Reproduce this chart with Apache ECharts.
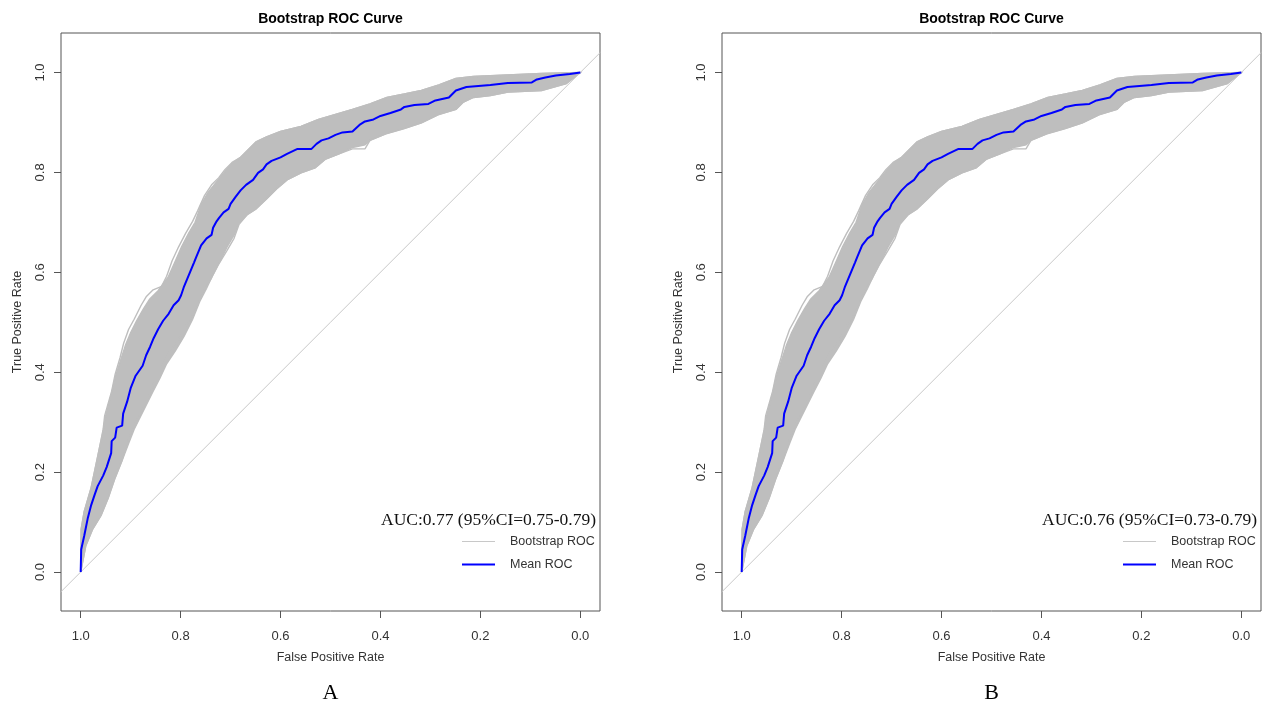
<!DOCTYPE html>
<html><head><meta charset="utf-8">
<script src="https://cdn.jsdelivr.net/npm/echarts@6/dist/echarts.min.js"></script>
<style>html,body{margin:0;padding:0;background:#fff}#c{width:1263px;height:706px}</style>
</head><body><div id="c"></div>
<script>
// tick labels
const tickValues = [0, 0.2, 0.4, 0.6, 0.8, 1.0];
const panelLabels = ['A', 'B'];
const aucTexts = ['AUC:0.77 (95%CI=0.75-0.79)', 'AUC:0.76 (95%CI=0.73-0.79)'];

// points are [specificity (x axis, shown 1.0 -> 0.0), sensitivity]
const meanROC_A = [[1.000,0.000],[0.999,0.045],[0.993,0.072],[0.986,0.107],[0.979,0.134],[0.972,0.155],[0.966,0.172],[0.955,0.193],[0.948,0.210],[0.939,0.238],[0.938,0.262],[0.931,0.269],[0.928,0.289],[0.917,0.293],[0.915,0.317],[0.907,0.341],[0.900,0.368],[0.890,0.393],[0.876,0.413],[0.869,0.434],[0.861,0.451],[0.854,0.468],[0.845,0.486],[0.835,0.503],[0.824,0.517],[0.814,0.534],[0.804,0.544],[0.799,0.554],[0.793,0.572],[0.783,0.596],[0.773,0.620],[0.769,0.630],[0.759,0.654],[0.748,0.668],[0.738,0.675],[0.735,0.689],[0.728,0.702],[0.723,0.709],[0.714,0.720],[0.704,0.727],[0.700,0.737],[0.690,0.751],[0.680,0.764],[0.669,0.775],[0.655,0.785],[0.645,0.799],[0.635,0.806],[0.628,0.816],[0.618,0.823],[0.600,0.830],[0.587,0.837],[0.566,0.847],[0.538,0.847],[0.528,0.857],[0.518,0.864],[0.504,0.868],[0.490,0.875],[0.476,0.880],[0.456,0.882],[0.442,0.895],[0.431,0.902],[0.414,0.906],[0.400,0.913],[0.380,0.919],[0.359,0.926],[0.352,0.931],[0.332,0.935],[0.304,0.937],[0.290,0.944],[0.263,0.950],[0.249,0.964],[0.228,0.971],[0.180,0.975],[0.145,0.979],[0.097,0.980],[0.087,0.986],[0.070,0.990],[0.049,0.994],[0.021,0.997],[0.000,1.000]];
// outermost bootstrap curves (upper-left and lower-right)
const bootOuterUpper_A = [[1.000,0.000],[0.999,0.086],[0.993,0.121],[0.979,0.169],[0.966,0.231],[0.955,0.286],[0.952,0.313],[0.938,0.362],[0.931,0.396],[0.921,0.430],[0.914,0.458],[0.904,0.486],[0.893,0.506],[0.879,0.534],[0.869,0.551],[0.855,0.565],[0.838,0.572],[0.828,0.592],[0.817,0.623],[0.804,0.651],[0.790,0.678],[0.776,0.702],[0.766,0.723],[0.752,0.754],[0.738,0.775],[0.724,0.789],[0.711,0.806],[0.697,0.820],[0.680,0.830],[0.666,0.844],[0.649,0.861],[0.628,0.871],[0.600,0.882],[0.559,0.892],[0.524,0.906],[0.490,0.916],[0.456,0.926],[0.421,0.937],[0.387,0.950],[0.352,0.957],[0.318,0.964],[0.283,0.975],[0.249,0.988],[0.214,0.992],[0.145,0.995],[0.077,0.998],[0.000,1.000]];
const bootOuterLower_A = [[1.000,0.000],[0.990,0.052],[0.976,0.086],[0.959,0.114],[0.945,0.148],[0.931,0.189],[0.917,0.224],[0.904,0.265],[0.893,0.293],[0.879,0.320],[0.866,0.348],[0.852,0.382],[0.838,0.410],[0.821,0.444],[0.804,0.465],[0.786,0.499],[0.769,0.527],[0.755,0.561],[0.738,0.589],[0.724,0.616],[0.707,0.644],[0.693,0.668],[0.683,0.696],[0.666,0.716],[0.649,0.727],[0.628,0.747],[0.607,0.768],[0.587,0.785],[0.559,0.799],[0.531,0.809],[0.511,0.826],[0.483,0.837],[0.456,0.847],[0.431,0.847],[0.421,0.864],[0.387,0.878],[0.352,0.888],[0.318,0.899],[0.283,0.916],[0.249,0.926],[0.235,0.940],[0.214,0.950],[0.180,0.954],[0.145,0.961],[0.077,0.964],[0.028,0.978],[0.000,1.000]];
// edges of the dense bootstrap bundle
const bootCoreUpper_A = [[1.000,0.000],[0.999,0.086],[0.993,0.121],[0.979,0.169],[0.966,0.231],[0.955,0.282],[0.950,0.313],[0.938,0.358],[0.930,0.393],[0.919,0.427],[0.910,0.455],[0.900,0.479],[0.888,0.503],[0.874,0.527],[0.862,0.546],[0.845,0.563],[0.825,0.590],[0.812,0.619],[0.798,0.651],[0.784,0.678],[0.771,0.700],[0.759,0.735],[0.745,0.760],[0.729,0.780],[0.713,0.800],[0.697,0.818],[0.680,0.830],[0.666,0.844],[0.649,0.861],[0.628,0.871],[0.600,0.882],[0.559,0.892],[0.524,0.906],[0.490,0.916],[0.456,0.926],[0.421,0.937],[0.387,0.950],[0.352,0.957],[0.318,0.964],[0.283,0.975],[0.249,0.988],[0.214,0.992],[0.145,0.995],[0.077,0.998],[0.000,1.000]];
const bootCoreLower_A = [[1.000,0.000],[0.990,0.052],[0.976,0.086],[0.959,0.114],[0.945,0.148],[0.931,0.189],[0.917,0.224],[0.904,0.258],[0.893,0.286],[0.883,0.306],[0.869,0.334],[0.855,0.362],[0.841,0.389],[0.828,0.417],[0.810,0.444],[0.793,0.472],[0.776,0.506],[0.762,0.541],[0.748,0.568],[0.735,0.596],[0.721,0.623],[0.707,0.651],[0.693,0.675],[0.683,0.699],[0.666,0.716],[0.649,0.727],[0.628,0.747],[0.607,0.768],[0.587,0.785],[0.559,0.799],[0.531,0.809],[0.511,0.826],[0.483,0.837],[0.456,0.850],[0.431,0.855],[0.421,0.864],[0.387,0.878],[0.352,0.888],[0.318,0.899],[0.283,0.916],[0.249,0.926],[0.235,0.940],[0.214,0.950],[0.180,0.954],[0.145,0.961],[0.077,0.964],[0.028,0.978],[0.000,1.000]];
// Panel B reads the same off the picture
const meanROC_B = meanROC_A.map(p => p.slice());
const bootOuterUpper_B = bootOuterUpper_A.map(p => p.slice());
const bootOuterLower_B = bootOuterLower_A.map(p => p.slice());
const bootCoreUpper_B = bootCoreUpper_A.map(p => p.slice());
const bootCoreLower_B = bootCoreLower_A.map(p => p.slice());
const chanceLine = [[1.04,-0.04],[-0.04,1.04]];

const panels = [
  {mean: meanROC_A, outerU: bootOuterUpper_A, outerL: bootOuterLower_A, coreU: bootCoreUpper_A, coreL: bootCoreLower_A},
  {mean: meanROC_B, outerU: bootOuterUpper_B, outerL: bootOuterLower_B, coreU: bootCoreUpper_B, coreL: bootCoreLower_B}
];

const gridLefts = [61, 722];
const gridW = 539, gridTop = 33, gridH = 578;
const GRAY = '#bebebe';

const chart = echarts.init(document.getElementById('c'), null, {renderer: 'canvas'});
const option = {
  animation: false,
  backgroundColor: '#fff',
  title: [], legend: [], grid: [], xAxis: [], yAxis: [], series: []
};

panels.forEach((p, i) => {
  const L = gridLefts[i];
  const R = L + gridW;
  option.grid.push({left: L, top: gridTop, width: gridW, height: gridH, show: true,
    borderColor: '#555', borderWidth: 1, backgroundColor: 'transparent', containLabel: false});
  option.xAxis.push({type: 'value', gridIndex: i, inverse: true, min: -0.0394, max: 1.0394,
    name: 'False Positive Rate', nameLocation: 'middle', nameGap: 40,
    nameTextStyle: {fontFamily: 'Liberation Sans', fontSize: 12.5, color: '#333'},
    axisLine: {show: false, onZero: false}, splitLine: {show: false},
    axisTick: {show: true, length: 7, inside: false, customValues: tickValues, lineStyle: {color: '#555'}},
    axisLabel: {customValues: tickValues, formatter: v => v.toFixed(1), margin: 19,
      fontFamily: 'Liberation Sans', fontSize: 13, color: '#333'}});
  option.yAxis.push({type: 'value', gridIndex: i, min: -0.078, max: 1.079,
    name: 'True Positive Rate', nameLocation: 'middle', nameGap: 37,
    nameTextStyle: {fontFamily: 'Liberation Sans', fontSize: 12.5, color: '#333'},
    axisLine: {show: false, onZero: false}, splitLine: {show: false},
    axisTick: {show: true, length: 7, inside: false, customValues: tickValues, lineStyle: {color: '#555'}},
    axisLabel: {customValues: tickValues, formatter: v => v.toFixed(1), margin: 14, rotate: 90,
      fontFamily: 'Liberation Sans', fontSize: 13, color: '#333'}});

  option.title.push({text: 'Bootstrap ROC Curve', left: (L + R) / 2, top: 12, textAlign: 'center', padding: 0,
    textStyle: {fontFamily: 'Liberation Sans', fontWeight: 'bold', fontSize: 14, color: '#000'}});
  option.title.push({text: aucTexts[i], left: R - 4, top: 511, textAlign: 'right', padding: 0,
    textStyle: {fontFamily: 'Liberation Serif', fontWeight: 'normal', fontSize: 17.5, color: '#111'}});
  option.title.push({text: panelLabels[i], left: (L + R) / 2, top: 682, textAlign: 'center', padding: 0,
    textStyle: {fontFamily: 'Liberation Serif', fontWeight: 'normal', fontSize: 22, color: '#000'}});

  option.legend.push({orient: 'vertical', left: R - 139, top: 535, itemWidth: 33, itemHeight: 14, itemGap: 10,
    padding: 0, selectedMode: false,
    data: [{name: 'Bootstrap ROC', lineStyle: {width: 1, color: '#c8c8c8'}, itemStyle: {color: '#c8c8c8', opacity: 0}},
           {name: 'Mean ROC', lineStyle: {width: 2, color: '#0000ff'}, itemStyle: {color: '#0000ff', opacity: 0}}],
    textStyle: {fontFamily: 'Liberation Sans', fontSize: 12.5, color: '#333', padding: [0, 0, 0, 10]}});

  option.series.push({type: 'line', name: 'Bootstrap ROC', xAxisIndex: i, yAxisIndex: i, data: p.outerU,
    symbol: 'none', lineStyle: {color: GRAY, width: 1.4}, itemStyle: {color: GRAY}, z: 2, silent: true});
  option.series.push({type: 'line', name: 'Bootstrap ROC', xAxisIndex: i, yAxisIndex: i, data: p.outerL,
    symbol: 'none', lineStyle: {color: GRAY, width: 1.4}, itemStyle: {color: GRAY}, z: 2, silent: true});
  option.series.push({type: 'custom', name: 'Bootstrap ROC', xAxisIndex: i, yAxisIndex: i, silent: true, z: 1,
    data: [p.coreU[0]],
    renderItem: (params, api) => {
      const pts = p.coreU.map(d => api.coord(d)).concat(p.coreL.slice().reverse().map(d => api.coord(d)));
      return {type: 'polygon', shape: {points: pts}, style: {fill: GRAY, stroke: GRAY, lineWidth: 1.5}};
    }});
  option.series.push({type: 'line', name: 'chance', xAxisIndex: i, yAxisIndex: i, data: chanceLine,
    symbol: 'none', lineStyle: {color: '#c8c8c8', width: 1}, z: 3, silent: true, clip: true});
  option.series.push({type: 'line', name: 'Mean ROC', xAxisIndex: i, yAxisIndex: i, data: p.mean,
    symbol: 'none', lineStyle: {color: '#0000ff', width: 2}, itemStyle: {color: '#0000ff'}, z: 4, silent: true});
});

chart.setOption(option);
</script>
</body></html>
